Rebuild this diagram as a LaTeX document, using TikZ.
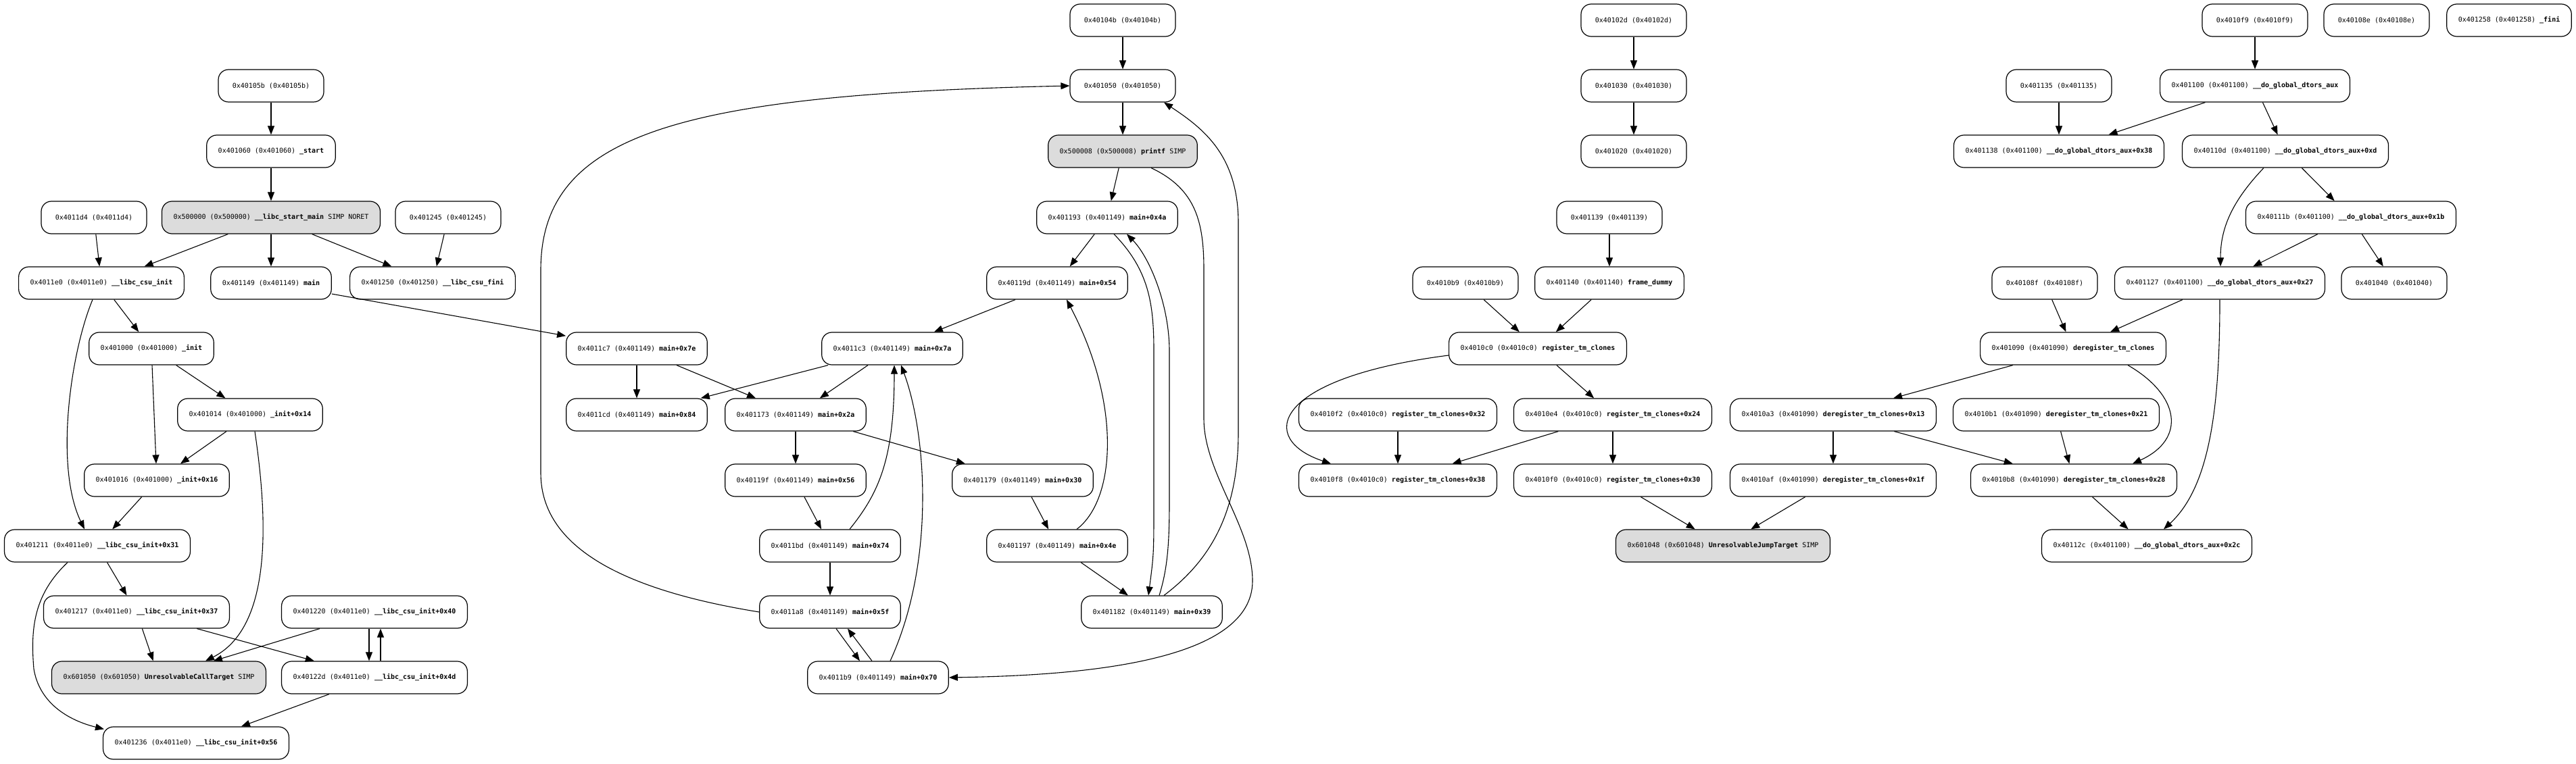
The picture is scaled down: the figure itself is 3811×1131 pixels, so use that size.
\documentclass[tikz,border=0pt]{standalone}
\usepackage{fontspec}
\setmainfont{DejaVu Sans Mono}
\usetikzlibrary{arrows.meta}
\usetikzlibrary{calc}
\definecolor{simpgray}{HTML}{DCDCDC}
\tikzset{cfgbox/.style = {draw, fill = white, rounded corners = 15pt, line width = 1.2pt,
                          minimum height = 48pt, minimum width = 156pt, inner xsep = 17pt,
                          font = \fontsize{10pt}{12pt}\selectfont},
         simpbox/.style = {cfgbox, fill = simpgray},
         edge/.style = {-{Triangle[length = 13pt, width = 10pt]}, line width = 1.1pt}}
\newcommand{\blk}[3]{0x#1 (0x#2) \textbf{#3}}

\begin{document}
\begin{tikzpicture}[x = 1pt, y = -1pt]
      \useasboundingbox (0, 0) rectangle (3811, 1131);
      \fill [white] (0, 0) rectangle (3811, 1131);

      \node [cfgbox] (a40105b) at (401, 127) {0x40105b (0x40105b)};
      \node [cfgbox] (a401060) at (401, 224) {\blk{401060}{401060}{\_start}};
      \node [simpbox] (a500000) at (401, 322) {\blk{500000}{500000}{\_\_libc\_start\_main} SIMP NORET};
      \node [cfgbox] (a4011d4) at (139, 322) {0x4011d4 (0x4011d4)};
      \node [cfgbox] (a401245) at (663, 322) {0x401245 (0x401245)};
      \node [cfgbox] (a4011e0) at (150, 419) {\blk{4011e0}{4011e0}{\_\_libc\_csu\_init}};
      \node [cfgbox] (a401149) at (401, 419) {\blk{401149}{401149}{main}};
      \node [cfgbox] (a401250) at (640, 419) {\blk{401250}{401250}{\_\_libc\_csu\_fini}};
      \node [cfgbox] (a401000) at (224, 516) {\blk{401000}{401000}{\_init}};
      \node [cfgbox] (a401014) at (370, 614) {\blk{401014}{401000}{\_init+0x14}};
      \node [cfgbox] (a401016) at (232, 711) {\blk{401016}{401000}{\_init+0x16}};
      \node [cfgbox] (a401211) at (144, 808) {\blk{401211}{4011e0}{\_\_libc\_csu\_init+0x31}};
      \node [cfgbox] (a401217) at (202, 906) {\blk{401217}{4011e0}{\_\_libc\_csu\_init+0x37}};
      \node [cfgbox] (a401220) at (554, 906) {\blk{401220}{4011e0}{\_\_libc\_csu\_init+0x40}};
      \node [simpbox] (a601050) at (235, 1003) {\blk{601050}{601050}{UnresolvableCallTarget} SIMP};
      \node [cfgbox] (a40122d) at (554, 1003) {\blk{40122d}{4011e0}{\_\_libc\_csu\_init+0x4d}};
      \node [cfgbox] (a401236) at (290, 1100) {\blk{401236}{4011e0}{\_\_libc\_csu\_init+0x56}};

      \node [cfgbox] (a40104b) at (1661, 30) {0x40104b (0x40104b)};
      \node [cfgbox] (a401050) at (1661, 127) {0x401050 (0x401050)};
      \node [simpbox] (a500008) at (1661, 224) {\blk{500008}{500008}{printf} SIMP};
      \node [cfgbox] (a401193) at (1638, 322) {\blk{401193}{401149}{main+0x4a}};
      \node [cfgbox] (a40119d) at (1564, 419) {\blk{40119d}{401149}{main+0x54}};
      \node [cfgbox] (a4011c7) at (942, 516) {\blk{4011c7}{401149}{main+0x7e}};
      \node [cfgbox] (a4011c3) at (1320, 516) {\blk{4011c3}{401149}{main+0x7a}};
      \node [cfgbox] (a4011cd) at (942, 614) {\blk{4011cd}{401149}{main+0x84}};
      \node [cfgbox] (a401173) at (1177, 614) {\blk{401173}{401149}{main+0x2a}};
      \node [cfgbox] (a40119f) at (1177, 711) {\blk{40119f}{401149}{main+0x56}};
      \node [cfgbox] (a401179) at (1513, 711) {\blk{401179}{401149}{main+0x30}};
      \node [cfgbox] (a4011bd) at (1228, 808) {\blk{4011bd}{401149}{main+0x74}};
      \node [cfgbox] (a401197) at (1564, 808) {\blk{401197}{401149}{main+0x4e}};
      \node [cfgbox] (a4011a8) at (1228, 906) {\blk{4011a8}{401149}{main+0x5f}};
      \node [cfgbox] (a401182) at (1704, 906) {\blk{401182}{401149}{main+0x39}};
      \node [cfgbox] (a4011b9) at (1299, 1003) {\blk{4011b9}{401149}{main+0x70}};

      \node [cfgbox] (a40102d) at (2417, 30) {0x40102d (0x40102d)};
      \node [cfgbox] (a401030) at (2417, 127) {0x401030 (0x401030)};
      \node [cfgbox] (a401020) at (2417, 224) {0x401020 (0x401020)};
      \node [cfgbox] (a401139) at (2381, 322) {0x401139 (0x401139)};
      \node [cfgbox] (a4010b9) at (2168, 419) {0x4010b9 (0x4010b9)};
      \node [cfgbox] (a401140) at (2381, 419) {\blk{401140}{401140}{frame\_dummy}};
      \node [cfgbox] (a4010c0) at (2275, 516) {\blk{4010c0}{4010c0}{register\_tm\_clones}};
      \node [cfgbox] (a4010f2) at (2068, 614) {\blk{4010f2}{4010c0}{register\_tm\_clones+0x32}};
      \node [cfgbox] (a4010e4) at (2386, 614) {\blk{4010e4}{4010c0}{register\_tm\_clones+0x24}};
      \node [cfgbox] (a4010f8) at (2068, 711) {\blk{4010f8}{4010c0}{register\_tm\_clones+0x38}};
      \node [cfgbox] (a4010f0) at (2386, 711) {\blk{4010f0}{4010c0}{register\_tm\_clones+0x30}};
      \node [simpbox] (a601048) at (2549, 808) {\blk{601048}{601048}{UnresolvableJumpTarget} SIMP};

      \node [cfgbox] (a4010f9) at (3336, 30) {0x4010f9 (0x4010f9)};
      \node [cfgbox] (a40108e) at (3516, 30) {0x40108e (0x40108e)};
      \node [cfgbox] (a401258) at (3712, 30) {\blk{401258}{401258}{\_fini}};
      \node [cfgbox] (a401135) at (3046, 127) {0x401135 (0x401135)};
      \node [cfgbox] (a401100) at (3336, 127) {\blk{401100}{401100}{\_\_do\_global\_dtors\_aux}};
      \node [cfgbox] (a401138) at (3046, 224) {\blk{401138}{401100}{\_\_do\_global\_dtors\_aux+0x38}};
      \node [cfgbox] (a40110d) at (3381, 224) {\blk{40110d}{401100}{\_\_do\_global\_dtors\_aux+0xd}};
      \node [cfgbox] (a40111b) at (3478, 322) {\blk{40111b}{401100}{\_\_do\_global\_dtors\_aux+0x1b}};
      \node [cfgbox] (a40108f) at (3025, 419) {0x40108f (0x40108f)};
      \node [cfgbox] (a401127) at (3284, 419) {\blk{401127}{401100}{\_\_do\_global\_dtors\_aux+0x27}};
      \node [cfgbox] (a401040) at (3542, 419) {0x401040 (0x401040)};
      \node [cfgbox] (a401090) at (3067, 516) {\blk{401090}{401090}{deregister\_tm\_clones}};
      \node [cfgbox] (a4010a3) at (2712, 614) {\blk{4010a3}{401090}{deregister\_tm\_clones+0x13}};
      \node [cfgbox] (a4010b1) at (3042, 614) {\blk{4010b1}{401090}{deregister\_tm\_clones+0x21}};
      \node [cfgbox] (a4010af) at (2712, 711) {\blk{4010af}{401090}{deregister\_tm\_clones+0x1f}};
      \node [cfgbox] (a4010b8) at (3068, 711) {\blk{4010b8}{401090}{deregister\_tm\_clones+0x28}};
      \node [cfgbox] (a40112c) at (3176, 808) {\blk{40112c}{401100}{\_\_do\_global\_dtors\_aux+0x2c}};

      \draw [edge] (a40105b) -- (a401060);
      \draw [edge] (a401060) -- (a500000);
      \draw [edge] (a500000) -- (a4011e0);
      \draw [edge] (a500000) -- (a401149);
      \draw [edge] (a500000) -- (a401250);
      \draw [edge] (a4011d4) -- (a4011e0);
      \draw [edge] (a401245) -- (a401250);
      \draw [edge] (a401149) -- (a4011c7);
      \draw [edge] (a4011e0) -- (a401000);
      \draw [edge] ($(a4011e0.south) + (-13, 0)$) .. controls (105, 520) and (80, 690) .. ($(a401211.north) + (-19, 0)$);
      \draw [edge] (a401000) -- (a401016);
      \draw [edge] (a401000) -- (a401014);
      \draw [edge] (a401014) -- (a401016);
      \draw [edge] ($(a401014.south) + (7, 0)$) .. controls (398, 780) and (400, 930) .. ($(a601050.north) + (69, 0)$);
      \draw [edge] (a401016) -- (a401211);
      \draw [edge] (a401211) -- (a401217);
      \draw [edge] ($(a401211.south) + (-44, 0)$) .. controls (50, 880) and (45, 930) .. (50, 990) .. controls (58, 1040) and (100, 1066) .. ($(a401236.north west) + (2, 4)$);
      \draw [edge] (a401217) -- (a601050);
      \draw [edge] (a401217) -- (a40122d);
      \draw [edge] (a401220) -- (a601050);
      \draw [edge] ($(a401220.south) + (-8, 0)$) -- ($(a40122d.north) + (-8, 0)$);
      \draw [edge] ($(a40122d.north) + (9, 0)$) -- ($(a401220.south) + (9, 0)$);
      \draw [edge] (a40122d) -- (a401236);

      \draw [edge] (a40104b) -- (a401050);
      \draw [edge] (a401050) -- (a500008);
      \draw [edge] (a500008) -- (a401193);
      \draw [edge] ($(a500008.south) + (42, 0)$) .. controls (1770, 280) and (1781, 330) .. (1781, 400) -- (1781, 620) .. controls (1781, 700) and (1853, 780) .. (1853, 860) .. controls (1853, 980) and (1600, 1000) .. (a4011b9.east);
      \draw [edge] (a401193) -- (a40119d);
      \draw [edge] ($(a401193.south) + (10, 0)$) .. controls (1700, 400) and (1707, 450) .. (1707, 520) -- (1707, 740) .. controls (1707, 820) .. ($(a401182.north) + (-5, 0)$);
      \draw [edge] ($(a401182.north) + (11, 0)$) .. controls (1728, 840) and (1730, 800) .. (1730, 740) -- (1730, 520) .. controls (1730, 450) and (1700, 380) .. ($(a401193.south) + (29, 0)$);
      \draw [edge] ($(a401182.north) + (18, 0)$) .. controls (1790, 830) and (1832, 760) .. (1832, 640) -- (1832, 330) .. controls (1832, 230) and (1780, 190) .. ($(a401050.south) + (61, 0)$);
      \draw [edge] (a40119d) -- (a4011c3);
      \draw [edge] (a4011c7) -- (a4011cd);
      \draw [edge] (a4011c7) -- (a401173);
      \draw [edge] (a4011c3) -- (a4011cd);
      \draw [edge] (a4011c3) -- (a401173);
      \draw [edge] (a401173) -- (a40119f);
      \draw [edge] (a401173) -- (a401179);
      \draw [edge] (a40119f) -- (a4011bd);
      \draw [edge] ($(a4011bd.north) + (29, 0)$) .. controls (1300, 730) and (1323, 680) .. ($(a4011c3.south) + (3, 0)$);
      \draw [edge] ($(a4011b9.north) + (18, 0)$) .. controls (1385, 830) and (1370, 640) .. ($(a4011c3.south) + (13, 0)$);
      \draw [edge] (a4011bd) -- (a4011a8);
      \draw [edge] ($(a4011a8.south) + (9, 0)$) -- ($(a4011b9.north) + (-27, 0)$);
      \draw [edge] ($(a4011b9.north) + (-9, 0)$) -- ($(a4011a8.south) + (26, 0)$);
      \draw [edge] (a4011a8.west) .. controls (900, 870) and (800, 800) .. (800, 700) -- (800, 400) .. controls (800, 200) and (1000, 140) .. (a401050.west);
      \draw [edge] (a401179) -- (a401197);
      \draw [edge] ($(a401197.north) + (29, 0)$) .. controls (1650, 740) and (1660, 600) .. ($(a40119d.south) + (14, 0)$);
      \draw [edge] (a401197) -- (a401182);

      \draw [edge] (a40102d) -- (a401030);
      \draw [edge] (a401030) -- (a401020);
      \draw [edge] (a401139) -- (a401140);
      \draw [edge] (a4010b9) -- (a4010c0);
      \draw [edge] (a401140) -- (a4010c0);
      \draw [edge] ($(a4010c0.west) + (0, 10)$) .. controls (1880, 560) and (1860, 650) .. ($(a4010f8.north) + (-99, 0)$);
      \draw [edge] (a4010c0) -- (a4010e4);
      \draw [edge] (a4010f2) -- (a4010f8);
      \draw [edge] (a4010e4) -- (a4010f8);
      \draw [edge] (a4010e4) -- (a4010f0);
      \draw [edge] (a4010f0) -- (a601048);
      \draw [edge] (a4010af) -- (a601048);

      \draw [edge] (a4010f9) -- (a401100);
      \draw [edge] (a401135) -- (a401138);
      \draw [edge] (a401100) -- (a401138);
      \draw [edge] (a401100) -- (a40110d);
      \draw [edge] ($(a40110d.south) + (-32, 0)$) .. controls (3300, 300) and (3285, 340) .. ($(a401127.north) + (1, 0)$);
      \draw [edge] (a40110d) -- (a40111b);
      \draw [edge] (a40111b) -- (a401127);
      \draw [edge] (a40111b) -- (a401040);
      \draw [edge] (a40108f) -- (a401090);
      \draw [edge] (a401127) -- (a401090);
      \draw [edge] (a401127.south) .. controls (3284, 600) and (3270, 720) .. ($(a40112c.north) + (25, 0)$);
      \draw [edge] (a401090) -- (a4010a3);
      \draw [edge] ($(a401090.south) + (81, 0)$) .. controls (3225, 585) and (3235, 650) .. ($(a4010b8.north) + (87, 0)$);
      \draw [edge] (a4010a3) -- (a4010af);
      \draw [edge] (a4010a3) -- (a4010b8);
      \draw [edge] (a4010b1) -- (a4010b8);
      \draw [edge] (a4010b8) -- (a40112c);
\end{tikzpicture}
\end{document}
